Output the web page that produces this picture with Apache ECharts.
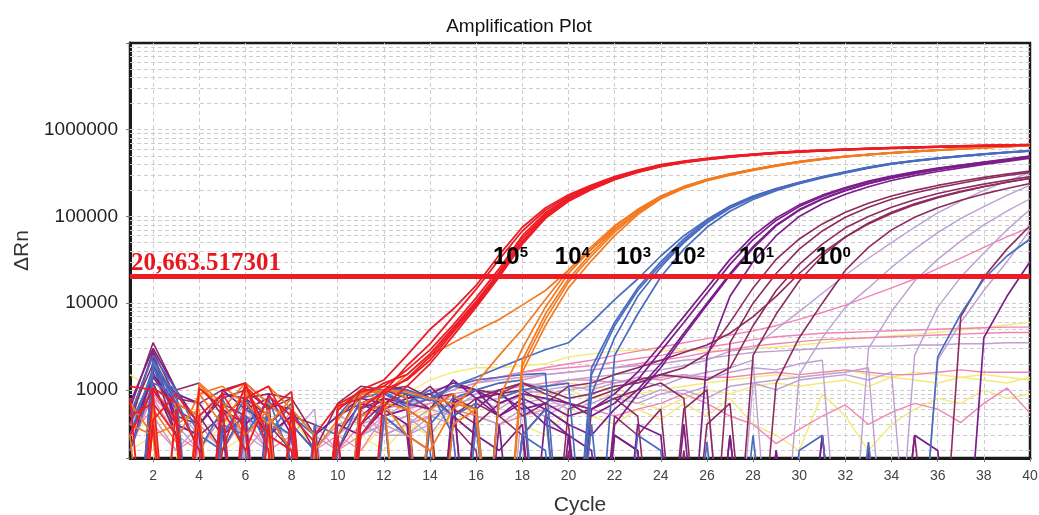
<!DOCTYPE html>
<html><head><meta charset="utf-8">
<script src="https://cdn.jsdelivr.net/npm/echarts@6/dist/echarts.min.js"></script>
<style>html,body{margin:0;padding:0;background:#fff}#c{width:1039px;height:515px}</style>
</head><body><div id="c"></div>
<script>
// ---------- data ----------
const cycles = [1,2,3,4,5,6,7,8,9,10,11,12,13,14,15,16,17,18,19,20,21,22,23,24,25,26,27,28,29,30,31,32,33,34,35,36,37,38,39,40];
const xTickLabels = [2,4,6,8,10,12,14,16,18,20,22,24,26,28,30,32,34,36,38,40];
const yTickLabels = [1000,10000,100000,1000000];
const threshold = 20663.517301;
const thresholdText = '20,663.517301';
const dilutionExps = ['5','4','3','2','1','0'];
const dilutionCycles = [16.73,19.41,22.06,24.40,27.39,30.72];
const dilutionLevel = 24200;

// red: 10^5
const red1 = [1100,1000,450,1,200,1150,300,200,1,650, 800,1200,1500,2600,5200,10500,23000,56000,105000,160000, 215000,275000,330000,385000,425000,460000,490000,515000,540000,560000, 575000,590000,605000,615000,625000,635000,645000,655000,660000,670000];
const red2 = [300,1050,700,200,1,800,1100,350,1,1, 620,950,1900,3400,7000,14500,32000,68000,118000,172000, 225000,282000,338000,390000,430000,465000,495000,520000,545000,565000, 580000,595000,610000,620000,630000,640000,650000,658000,665000,672000];
const red3 = [1,900,1,1050,600,200,850,500,250,1, 400,1000,1300,2200,4600,9500,21000,50000,98000,152000, 208000,268000,325000,378000,420000,455000,485000,512000,535000,555000, 572000,588000,600000,612000,622000,632000,642000,650000,658000,665000];
const red4 = [500,700,300,1,950,1200,200,1,300,680, 950,1100,1700,2900,5600,11500,25000,60000,110000,165000, 220000,278000,333000,388000,428000,462000,492000,518000,542000,562000, 578000,592000,607000,618000,628000,638000,648000,656000,663000,670000];
const red5 = [1,450,900,400,1,1100,600,950,1,300, 1,900,1350,2400,4900,10000,22000,52000,100000,155000, 212000,270000,328000,382000,424000,458000,488000,514000,538000,558000, 574000,590000,603000,614000,624000,634000,644000,652000,660000,668000];
const red6 = [800,1,600,1,700,1,400,1,1,1, 300,650,1100,2000,4200,9000,20000,48000,95000,150000, 205000,265000,322000,376000,418000,453000,483000,510000,533000,553000, 570000,586000,598000,610000,620000,630000,640000,648000,656000,664000];
const red7 = [1,400,1,500,900,350,1,600,1,580, 1000,1300,2500,5000,8500,16000,36000,75000,125000,178000, 230000,288000,342000,395000,435000,468000,498000,522000,546000,566000, 582000,596000,610000,621000,631000,641000,650000,658000,665000,672000];

// orange: 10^4
const orange1 = [400,300,1,1150,600,1200,700,400,1,1, 900,1000,950,800,700,600,1,2200,7500,19000, 38000,70000,115000,168000,218000,265000,308000,348000,388000,428000, 462000,492000,518000,542000,562000,582000,602000,622000,640000,660000];
const orange2 = [1,600,250,900,400,1000,300,1,200,450, 1000,700,600,400,1,1,800,3000,9000,22000, 42000,76000,120000,172000,222000,268000,310000,350000,390000,430000, 464000,494000,520000,544000,564000,584000,604000,624000,642000,662000];
const orange3 = [300,1,700,500,1,800,1100,600,300,1, 700,850,1,600,900,500,1,1600,5500,15000, 31000,60000,105000,160000,212000,260000,304000,344000,384000,424000, 458000,488000,515000,539000,560000,580000,600000,620000,638000,658000];
const orange4 = [1,400,1,1200,700,300,600,1,1,300, 900,1100,800,1,400,600,1,1900,6500,17500, 35000,66000,110000,164000,215000,262000,306000,346000,386000,426000, 460000,490000,516000,540000,561000,581000,601000,621000,639000,659000];
const orange5 = [700,300,400,600,1,900,500,200,1,600, 1000,900,1500,2500,3500,4800,6500,9500,14000,24000, 42000,72000,112000,162000,212000,258000,300000,340000,380000,420000, 455000,485000,512000,536000,557000,578000,598000,618000,636000,656000];
const orange6 = [1,500,1,900,1100,700,400,800,1,1, 500,700,300,200,600,1200,2500,5000,11000,24000, 45000,78000,120000,170000,220000,266000,309000,349000,389000,429000, 462000,492000,518000,542000,563000,583000,603000,623000,641000,661000];

// blue: 10^3
const blue1 = [500,2500,1000,300,200,600,450,300,1,1, 950,1000,900,750,1100,1300,1400,1500,1550,1, 1800,6000,15000,30000,55000,90000,130000,170000,208000,246000, 285000,325000,368000,408000,440000,470000,498000,525000,550000,572000];
const blue2 = [1,2000,700,1,400,300,800,150,1,500, 1000,900,640,800,1100,1400,1800,2300,2900,3500, 6000,11000,19000,35000,60000,92000,132000,172000,210000,248000, 288000,328000,370000,410000,442000,472000,500000,527000,552000,574000];
const blue3 = [300,1800,600,1,800,200,1,500,300,1, 600,1000,1000,800,500,700,1,300,600,1, 1500,5500,14000,28000,52000,86000,126000,166000,205000,244000, 283000,322000,365000,405000,438000,468000,496000,523000,548000,570000];
const blue4 = [200,1200,900,400,1,500,300,700,1,200, 800,950,700,1000,300,1,800,1000,1100,1200, 1,2500,7500,20000,42000,75000,115000,157000,198000,238000, 278000,318000,360000,400000,434000,465000,493000,520000,545000,568000];
const blue5 = [1,2200,800,200,600,1,700,400,200,1, 300,700,1,400,800,1000,1200,1300,1,1, 900,4000,12000,26000,50000,84000,124000,164000,203000,242000, 281000,320000,363000,403000,436000,466000,494000,521000,546000,569000];
const blue6 = [400,1500,1000,1,300,800,200,1,400,300, 1,500,300,200,1,400,1,300,200,1, 400,1,300,200,1,250,1,300,1,200, 300,1,250,1,1,2400,7500,19000,35000,55000];

// purple: 10^2
const purple1 = [700,3000,1000,400,900,800,500,200,1,1, 700,600,800,900,1200,1000,700,900,800,700, 500,700,1300,2800,6000,13000,28000,54000,90000,130000, 170000,210000,250000,287000,322000,356000,388000,420000,454000,492000];
const purple2 = [1,2000,500,1,1000,600,800,1,300,500, 800,700,1,600,1300,800,900,600,700,500, 600,900,1600,3300,7000,15000,32000,60000,96000,136000, 176000,216000,255000,292000,327000,360000,392000,424000,458000,496000];
const purple3 = [300,1500,700,1,400,1,900,300,1,600, 900,1000,900,1,700,1000,500,800,600,400, 300,600,1000,2000,4500,10000,22000,45000,80000,120000, 160000,200000,240000,278000,314000,348000,381000,413000,447000,485000];
const purple4 = [500,2600,400,300,1,700,300,500,1,300, 700,500,600,400,1,800,500,700,400,300, 1,400,900,1800,4200,9500,21000,43000,78000,118000, 158000,198000,238000,276000,312000,346000,379000,411000,445000,482000];
const purple5 = [1,1800,900,700,300,500,1,400,200,1, 500,800,700,600,900,1,400,1,500,300, 200,1,400,300,1,2400,12000,30000,60000,100000, 140000,180000,220000,260000,296000,330000,364000,398000,432000,470000];
const purple6 = [200,1200,300,1,600,400,700,1,1,400, 300,600,400,1,500,300,200,400,1,300, 1,300,200,1,400,1,300,1,200,1, 300,1,200,1,300,200,1,4000,12000,30000];

// maroon: 10^1 / 10^0
const maroon1 = [600,3500,1000,1200,500,800,900,800,300,1, 900,1100,1000,800,1100,1000,900,1200,1000,800, 900,1100,1200,1500,1800,2600,6000,15000,32000,55000, 82000,112000,142000,172000,200000,228000,255000,282000,308000,335000];
const maroon2 = [400,2800,800,700,1000,1200,700,600,200,700, 1100,1000,800,900,500,800,1000,1200,900,700, 600,800,1000,1200,800,1,3500,10000,22000,42000, 68000,98000,128000,158000,186000,214000,242000,270000,296000,322000];
const maroon3 = [200,1600,500,400,800,1000,600,800,1,500, 700,900,700,1100,600,400,700,900,1,600, 800,1000,1300,1500,1400,1300,1800,5500,14000,28000, 48000,74000,100000,128000,156000,184000,210000,236000,262000,288000];
const maroon4 = [1,2400,700,500,200,600,400,700,1,300, 1000,1000,1100,800,900,1,900,1000,700,1100, 1200,1500,1800,2200,2700,3300,4500,7000,12000,22000, 38000,58000,82000,108000,136000,164000,192000,220000,248000,276000];
const maroon5 = [500,2000,300,1,700,500,1,600,1,200, 600,800,600,1,800,600,1000,500,700,1, 600,800,500,1,600,1000,1,2500,7500,18000, 35000,58000,84000,112000,140000,168000,195000,222000,248000,274000];
const maroon6 = [300,1400,600,400,1,800,300,500,400,1, 400,700,900,600,1,700,500,300,600,400, 1,500,300,600,1,400,700,1,1200,4000, 10000,24000,44000,70000,98000,126000,154000,182000,210000,240000];
const maroon7 = [1,1000,400,300,500,1,400,200,1,300, 1,500,300,1,400,200,1,300,1,200, 1,300,200,1,200,1,300,1,200,1, 300,1,200,1,300,1,7000,20000,42000,78000];

// light purple
const lilac1 = [300,1500,400,200,600,300,500,1,200,400, 500,600,700,800,600,900,1000,1200,1100,1300, 1400,1500,1600,1700,1900,2200,2800,3000,5000,8000, 13000,21000,33000,50000,75000,110000,150000,200000,255000,320000];
const lilac2 = [1,800,300,500,1,400,200,600,300,1, 300,400,500,300,700,800,600,900,1000,1100, 1000,1200,1300,1100,1400,1600,1800,2200,1,1500, 4000,9000,15000,26000,42000,65000,95000,130000,175000,230000];
const lilac3 = [200,1000,500,1,300,700,1,400,1,200, 600,300,400,600,500,700,800,1000,900,1000, 1100,1300,1200,1400,1500,1300,1600,1800,1700,2000, 2200,1,3000,8000,18000,32000,52000,80000,115000,160000];
const lilac4 = [400,700,1,300,500,1,300,200,1,500, 400,300,300,500,400,600,1,700,800,600, 700,900,800,1000,900,1100,1,1200,1300,1400, 1500,1600,1800,1,2500,9000,20000,38000,70000,120000];
const lilac5 = [1,500,200,400,1,300,200,1,300,200, 1,400,300,400,1,500,400,600,500,700, 600,800,700,900,1000,800,1100,1200,1000,1300, 1400,1500,1300,1600,1,2200,6000,14000,30000,70000];
const lilac6 = [500,900,600,300,1,500,400,300,600,1, 400,500,700,900,1000,1200,1300,1400,1500,1600, 1700,1800,1900,2000,2200,2300,2500,2700,2800,2900, 3000,3100,3200,3200,3300,3300,3400,3400,3500,3500];

// pink
const pink1 = [400,1200,300,200,500,300,1,400,200,300, 500,600,800,1000,1100,1300,1400,1600,1700,1800, 1900,2100,2300,2500,2800,3100,3400,3800,4100,4300, 4500,4600,4700,4800,4900,5000,5100,5200,5300,5300];
const pink2 = [1,800,500,1,300,600,300,1,400,200, 300,400,500,700,900,1000,1200,1300,1500,1600, 1700,1800,2000,2200,2400,2700,2900,3200,3400,3600, 3800,3900,4000,4100,4200,4300,4400,4500,4600,4600];
const pink3 = [300,600,1,400,200,500,300,200,1,400, 300,500,600,700,800,900,1000,1100,1200,1300, 1300,1200,1400,1300,1500,1400,1400,1500,1600,1500, 1600,1700,1600,1500,1500,1600,1700,1600,1600,1600];
const pink4 = [1,400,200,300,1,200,400,1,300,200, 400,300,400,500,600,500,400,500,600,700, 600,500,600,700,900,700,500,400,240,350, 500,670,400,550,700,600,420,700,1050,540];
const pink5 = [200,900,400,1,300,500,200,300,1,300, 200,500,600,800,1000,1200,1400,1600,1800,2000, 2200,2500,2800,3100,3500,3900,4300,4800,5500,6500, 7800,9500,12000,15000,19000,25000,33000,44000,58000,75000];

// yellow
const yellow1 = [1500,1000,300,200,400,1,300,200,1,300, 500,700,900,1300,1600,1800,1800,1900,2000,2400, 2600,2800,2900,2800,2900,2800,2900,3000,3100,3300, 3500,3800,4000,4200,4400,4600,4900,5200,5600,6000];
const yellow2 = [400,700,1,300,500,200,400,1,300,500, 200,400,500,600,700,800,900,1000,1100,1200, 1100,1000,900,1000,1100,1200,1300,1400,1500,1400, 1500,1700,1500,1400,1600,1500,1400,1500,1400,1300];
const yellow3 = [300,500,200,1,400,1,200,300,1,200, 300,200,400,300,500,300,200,400,300,600, 500,400,600,450,700,500,800,400,300,200, 900,500,200,400,600,800,700,1000,800,900];
const yellow4 = [200,300,1,400,200,300,1,500,200,1, 300,400,300,600,400,700,500,800,900,1000, 800,900,700,600,800,1000,900,1100,1200,1100, 1200,1300,1100,1400,1300,1200,1400,1300,1200,1400];

// ---------- chart ----------
const FONT = '"Liberation Sans", Arial, sans-serif';
const groups = [
  { curves: [yellow1, yellow2, yellow3, yellow4], color: '#f4ea7a', width: 1.4 },
  { curves: [pink1, pink2, pink3, pink4, pink5], color: '#f184b6', width: 1.4 },
  { curves: [lilac1, lilac2, lilac3, lilac4, lilac5, lilac6], color: '#bd9fd2', width: 1.4 },
  { curves: [maroon1, maroon2, maroon3, maroon4, maroon5, maroon6, maroon7], color: '#8d2a5e', width: 1.6 },
  { curves: [purple1, purple2, purple3, purple4, purple5, purple6], color: '#7b1d8b', width: 1.7 },
  { curves: [blue1, blue2, blue3, blue4, blue5, blue6], color: '#4a6cc0', width: 1.7 },
  { curves: [orange1, orange2, orange3, orange4, orange5, orange6], color: '#f47a20', width: 1.7 },
  { curves: [red1, red2, red3, red4, red5, red6, red7], color: '#ee1c25', width: 1.8 }
];

const series = [];
// grid lines (dashed, log minors)
const gridMarks = [];
for (let d = 100; d <= 1000000; d *= 10) {
  for (let k = 1; k <= 9; k++) {
    const v = d * k;
    if (v > 164 && v < 1e7) gridMarks.push({ yAxis: v });
  }
}
xTickLabels.forEach(c => { if (c < 40) gridMarks.push({ xAxis: c }); });
series.push({
  type: 'line', data: [], silent: true, z: 1,
  markLine: {
    silent: true, z: 1, symbol: ['none', 'none'], animation: false,
    label: { show: false },
    lineStyle: { color: '#cdcdcd', type: [4, 3], width: 1 },
    emphasis: { disabled: true },
    data: gridMarks
  }
});

groups.forEach(g => {
  g.curves.forEach(arr => {
    series.push({
      type: 'line', symbol: 'none', silent: true, animation: false, z: 3,
      lineStyle: { color: g.color, width: g.width },
      data: cycles.map((c, i) => [c, arr[i]])
    });
  });
});

series.push({
  type: 'line', data: [], silent: true, z: 20,
  markLine: {
    silent: true, z: 20, symbol: ['none', 'none'], animation: false,
    lineStyle: { color: '#ec1c24', width: 5, type: 'solid' },
    emphasis: { disabled: true },
    label: {
      show: true, position: 'insideStartTop', formatter: thresholdText,
      color: '#e8161f', fontFamily: '"Liberation Serif", "Times New Roman", serif',
      fontWeight: 'bold', fontSize: 25, distance: [1, 0], padding: 0
    },
    data: [{ yAxis: threshold }]
  }
});

series.push({
  type: 'scatter', symbolSize: 0, silent: true, z: 25, animation: false,
  itemStyle: { color: '#000', opacity: 1 },
  data: dilutionCycles.map((c, i) => ({
    value: [c, dilutionLevel],
    label: { formatter: '{b|10}{s|' + dilutionExps[i] + '}' }
  })),
  label: {
    show: true, position: [0, 0], align: 'left', verticalAlign: 'bottom', color: '#000',
    textBorderWidth: 0,
    rich: {
      b: { fontFamily: FONT, fontWeight: 'bold', fontSize: 24, color: '#000', lineHeight: 25, textBorderWidth: 0 },
      s: { fontFamily: FONT, fontWeight: 'bold', fontSize: 15, color: '#000', lineHeight: 15, verticalAlign: 'top', textBorderWidth: 0 }
    }
  }
});

const chart = echarts.init(document.getElementById('c'), null, { renderer: 'canvas' });
chart.setOption({
  animation: false,
  backgroundColor: '#ffffff',
  title: {
    text: 'Amplification Plot', left: 514, top: 12, textAlign: 'center',
    textStyle: { fontFamily: FONT, fontSize: 19, fontWeight: 'normal', color: '#111' }
  },
  grid: {
    left: 130, right: 9, top: 43, bottom: 57, show: true,
    containLabel: false, outerBoundsMode: 'none',
    borderColor: '#1a1a1a', borderWidth: 2.5, backgroundColor: 'transparent'
  },
  xAxis: {
    type: 'value', min: 1, max: 40,
    name: 'Cycle', nameLocation: 'middle', nameGap: 37,
    nameTextStyle: { fontFamily: FONT, fontSize: 21, color: '#333' },
    axisLine: { show: true, lineStyle: { color: '#1a1a1a', width: 3 } },
    axisTick: { show: true, length: 4, lineStyle: { color: '#777' }, customValues: xTickLabels },
    axisLabel: { fontFamily: FONT, fontSize: 14, color: '#444', margin: 11, customValues: xTickLabels },
    splitLine: { show: false }
  },
  yAxis: {
    type: 'log', logBase: 10, min: 164, max: 10000000,
    name: 'ΔRn', nameLocation: 'middle', nameGap: 97, nameRotate: 90,
    nameTextStyle: { fontFamily: FONT, fontSize: 21, color: '#333' },
    axisLine: { show: true, lineStyle: { color: '#1a1a1a', width: 3 } },
    axisTick: { show: true, length: 4, lineStyle: { color: '#777' } },
    axisLabel: {
      fontFamily: FONT, fontSize: 19, color: '#222', margin: 12,
      formatter: v => { const r = Math.round(v); return yTickLabels.indexOf(r) >= 0 ? String(r) : ''; }
    },
    splitLine: { show: false }
  },
  series: series
});
</script>
</body></html>
